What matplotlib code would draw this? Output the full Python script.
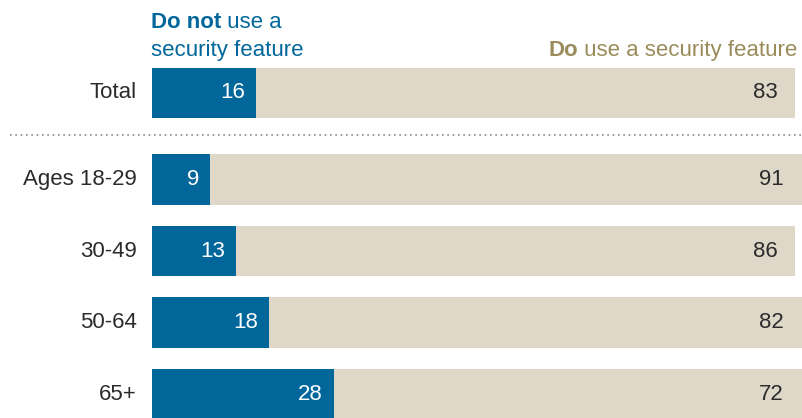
import matplotlib.pyplot as plt
from matplotlib.lines import Line2D

# data
categories = ["Total", "Ages 18-29", "30-49", "50-64", "65+"]
do_not_use = [16, 9, 13, 18, 28]
do_use = [83, 91, 86, 82, 72]
positions = [0, 1.21, 2.21, 3.21, 4.21]

BLUE = "#01669A"
BEIGE = "#DFD8C9"
OLIVE = "#9A8C5A"
DARK = "#2B2B2B"

plt.rcParams['font.family'] = ['Liberation Sans', 'DejaVu Sans']

W, H = 803, 418
fig = plt.figure(figsize=(W / 100, H / 100), dpi=100)
# axes spans x pixels 152..802 (0..100 units), full height
ax = fig.add_axes([152 / W, 0, 650 / W, 1])
ax.set_xlim(0, 100)
ax.set_ylim(4.545, -1.30)
ax.axis("off")

bar_h = 0.70
ax.barh(positions, do_not_use, height=bar_h, color=BLUE, linewidth=0)
ax.barh(positions, do_use, left=do_not_use, height=bar_h, color=BEIGE, linewidth=0)

for y, a, b, cat in zip(positions, do_not_use, do_use, categories):
    ax.annotate(str(a), (a, y), xytext=(-11, 0), textcoords="offset pixels",
                ha="right", va="center", color="white", fontsize=16)
    ax.annotate(str(b), (a + b, y), xytext=(-18, 0), textcoords="offset pixels",
                ha="right", va="center", color=DARK, fontsize=16)
    ax.annotate(cat, (0, y), xytext=(-15, 0), textcoords="offset pixels",
                ha="right", va="center", color=DARK, fontsize=16)

# dotted separator
fig.add_artist(Line2D([10 / W, 1], [1 - 135 / H, 1 - 135 / H], transform=fig.transFigure,
                      color="#8a8a8a", linestyle=(0, (1, 2.2)), linewidth=1.2))

# header labels
fig.canvas.draw()
r = fig.canvas.get_renderer()
x0 = 151 / W
t1 = fig.text(x0, 1 - 28 / H, "Do not", color=BLUE, fontsize=16, fontweight="bold",
              ha="left", va="baseline")
bb = t1.get_window_extent(r)
fig.text(bb.x1 / W, 1 - 28 / H, " use a", color=BLUE, fontsize=16, ha="left", va="baseline")
fig.text(x0, 1 - 56 / H, "security feature", color=BLUE, fontsize=16, ha="left", va="baseline")

t2 = fig.text(797 / W, 1 - 56 / H, " use a security feature", color=OLIVE, fontsize=16,
              ha="right", va="baseline")
bb2 = t2.get_window_extent(r)
fig.text(bb2.x0 / W, 1 - 56 / H, "Do", color=OLIVE, fontsize=16, fontweight="bold",
         ha="right", va="baseline")

fig.savefig("out.png", dpi=100)
